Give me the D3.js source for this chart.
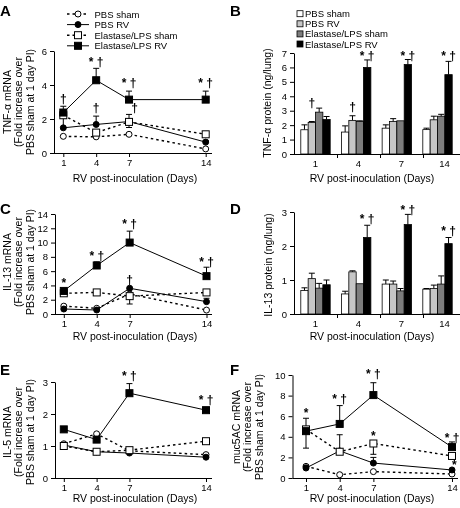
<!DOCTYPE html>
<html><head><meta charset="utf-8">
<script src="https://cdn.jsdelivr.net/npm/d3@7"></script>
<style>
body{margin:0;background:#fff}
svg{display:block;filter:grayscale(1)}
text{font-family:"Liberation Sans",Arial,Helvetica,sans-serif;fill:#000}
</style>
</head><body>
<svg id="chart" width="460" height="508"></svg>
<script>
// ---------------- DATA ----------------
const days = [1, 4, 7, 14];
const seriesNames = ["PBS sham", "PBS RV", "Elastase/LPS sham", "Elastase/LPS RV"];
const xTitle = "RV post-inoculation (Days)";

// A: TNF-α mRNA (rows = series, columns = days)
const aValues = [[0.98, 0.95, 1.1, 0.24], [1.48, 1.68, 1.85, 0.64], [2.22, 1.2, 1.83, 1.1], [2.38, 4.28, 3.14, 3.14]];
const aErrEnds = [[null, null, null, null], [2.05, 2.17, 2.27, 0.74], [null, null, 1.5, null], [2.75, 4.98, 3.64, 3.64]];
const aNotes = [{day: 1, y: 3.2, t: "†"}, {day: 4, y: 5.4, t: "* †"}, {day: 7, y: 4.15, t: "* †"}, {day: 14, y: 4.15, t: "* †"}, {day: 4, y: 2.7, t: "†"}, {day: 7.5, y: 2.65, t: "†"}];
const aTicks = [0, 2, 4, 6];

// B: TNF-α protein
const bValues = [[1.68, 1.52, 1.79, 1.69], [2.18, 2.33, 2.25, 2.37], [2.9, 2.25, 2.3, 2.62], [2.39, 6.0, 6.2, 5.5]];
const bErrEnds = [[2.02, 1.95, 2.02, 1.79], [2.25, 2.65, 2.45, 2.62], [3.18, 2.3, null, 2.75], [2.6, 6.52, 6.55, 6.42]];
const bNotes = [{day: 1, s: 1, y: 3.55, t: "†"}, {day: 4, s: 1, y: 3.3, t: "†"}, {day: 4, s: 3, y: 6.85, t: "* †"}, {day: 7, s: 3, y: 6.85, t: "* †"}, {day: 14, s: 3, y: 6.85, t: "* †"}];
const bTicks = [0, 1, 2, 3, 4, 5, 6, 7];

// C: IL-13 mRNA
const cValues = [[1.1, 0.8, 2.8, 0.55], [0.7, 0.56, 3.6, 1.73], [2.9, 3.02, 2.5, 3.02], [3.23, 6.79, 10.0, 5.3]];
const cErrEnds = [[null, null, null, null], [null, null, null, 2.2], [null, null, 1.4, null], [null, 7.3, 11.6, 6.55]];
const cNotes = [{day: 1, y: 4.4, t: "*"}, {day: 4, y: 8.2, t: "* †"}, {day: 7, y: 12.7, t: "* †"}, {day: 14, y: 7.4, t: "* †"}, {day: 7, y: 4.9, t: "†"}];
const cTicks = [0, 2, 4, 6, 8, 10, 12, 14];

// D: IL-13 protein
const dValues = [[0.69, 0.59, 0.88, 0.73], [1.04, 1.24, 0.88, 0.75], [0.76, 0.89, 0.68, 0.88], [0.86, 2.25, 2.63, 2.07]];
const dErrEnds = [[0.77, 0.67, 1.0, 0.75], [1.2, 1.27, 0.97, 0.85], [0.9, null, 0.75, 1.12], [1.0, 2.61, 2.93, 2.25]];
const dNotes = [{day: 4, s: 3, y: 2.8, t: "* †"}, {day: 7, s: 3, y: 3.08, t: "* †"}, {day: 14, s: 3, y: 2.46, t: "* †"}];
const dTicks = [0, 1, 2, 3];

// E: IL-5 mRNA
const eValues = [[1.07, 1.38, 0.85, 0.73], [1.03, 0.82, 0.78, 0.65], [1.0, 0.82, 0.87, 1.15], [1.52, 1.2, 2.65, 2.12]];
const eErrEnds = [[null, null, null, null], [null, null, null, null], [null, null, null, null], [null, null, 2.95, null]];
const eNotes = [{day: 7, y: 3.2, t: "* †"}, {day: 14, y: 2.45, t: "* †"}];
const eTicks = [0, 1, 2, 3];

// F: muc5AC mRNA
const fValues = [[1.13, 0.32, 0.62, 0.39], [0.97, 2.63, 1.45, 0.78], [4.72, 2.55, 3.35, 2.14], [4.55, 5.25, 8.05, 3.0]];
const fErrEnds = [[null, null, null, null], [1.25, 4.2, 2.0, null], [5.8, null, 2.3, null], [2.9, 7.03, 9.25, 3.5]];
const fNotes = [{day: 1, y: 6.4, t: "*"}, {day: 4, y: 7.7, t: "* †"}, {day: 7, y: 10.1, t: "* †"}, {day: 7, y: 4.15, t: "*"}, {day: 14, y: 3.95, t: "* †"}, {day: 14.2, y: 1.3, t: "*"}];
const fTicks = [0, 2, 4, 6, 8, 10];

// ---------------- STYLES ----------------
const FONT_TICK = 9.5, FONT_LAB = 10.5, FONT_NOTE = 12;
const lineDashed = [true, false, true, false];
const markerShape = ["circle", "circle", "square", "square"];
const markerFill = ["#fff", "#000", "#fff", "#000"];
const barFill = ["#ffffff", "#c6c6c6", "#7d7d7d", "#000000"];

const svg = d3.select("#chart");

function panelLetter(x, y, t) {
  svg.append("text").attr("x", x).attr("y", y).attr("font-size", 15).attr("font-weight", "bold").text(t);
}

function yLabel(lines, xs, cy) {
  lines.forEach((ln, i) => {
    svg.append("text").attr("transform", `translate(${xs[i]},${cy}) rotate(-90)`)
      .attr("text-anchor", "middle").attr("dy", "0.35em").attr("font-size", FONT_LAB).text(ln);
  });
}

function styleAxis(g) {
  g.selectAll("path,line").attr("stroke", "#000").attr("stroke-width", 1);
  g.selectAll("text").attr("font-size", FONT_TICK).attr("font-family", '"Liberation Sans",Arial,sans-serif');
}

function drawMarker(g, shape, fill, cx, cy) {
  if (shape === "circle") {
    g.append("circle").attr("cx", cx).attr("cy", cy).attr("r", 3)
      .attr("fill", fill).attr("stroke", "#000").attr("stroke-width", 1);
  } else {
    g.append("rect").attr("x", cx - 3.5).attr("y", cy - 3.5).attr("width", 7).attr("height", 7)
      .attr("fill", fill).attr("stroke", "#000").attr("stroke-width", 1);
  }
}

function errBar(g, cx, y0, y1) {
  g.append("line").attr("x1", cx).attr("x2", cx).attr("y1", y0).attr("y2", y1).attr("stroke", "#000").attr("stroke-width", 1);
  g.append("line").attr("x1", cx - 3).attr("x2", cx + 3).attr("y1", y1).attr("y2", y1).attr("stroke", "#000").attr("stroke-width", 1);
}

function note(g, x, y, t) {
  g.append("text").attr("x", x).attr("y", y + 4.5).attr("text-anchor", "middle")
    .attr("font-size", FONT_NOTE).attr("font-weight", "bold").attr("fill", "#000").text(t);
}

function linePanel(cfg) {
  const g = svg.append("g");
  const x = d3.scaleLinear().domain([1, 14]).range(cfg.xr);
  const y = d3.scaleLinear().domain([0, cfg.ymax]).range([cfg.yb, cfg.yt]);
  const ax = g.append("g").attr("transform", `translate(0,${cfg.yb})`)
    .call(d3.axisBottom(x).tickValues(days).tickFormat(d3.format("d")).tickSize(4).tickPadding(2));
  ax.select(".domain").attr("d", `M${cfg.ax0},0.5H${cfg.ax1}`);
  styleAxis(ax);
  const ay = g.append("g").attr("transform", `translate(${cfg.ax0},0)`)
    .call(d3.axisLeft(y).tickValues(cfg.ticks).tickFormat(d3.format("d")).tickSize(4).tickSizeOuter(0).tickPadding(3));
  styleAxis(ay);
  cfg.values.forEach((vals, s) => {
    const pts = vals.map((v, i) => [x(days[i]), y(v)]);
    g.append("path").attr("d", d3.line()(pts)).attr("fill", "none").attr("stroke", "#000")
      .attr("stroke-width", lineDashed[s] ? 1.4 : 1)
      .attr("stroke-dasharray", lineDashed[s] ? "2.5,3" : null);
    vals.forEach((v, i) => {
      const e = cfg.errs[s][i];
      if (e != null) errBar(g, x(days[i]), y(v), y(e));
    });
    vals.forEach((v, i) => drawMarker(g, markerShape[s], markerFill[s], x(days[i]), y(v)));
  });
  cfg.notes.forEach(n => note(g, x(n.day), y(n.y), n.t));
  g.append("text").attr("x", cfg.titleX).attr("y", cfg.titleY).attr("text-anchor", "middle")
    .attr("font-size", FONT_LAB).text(xTitle);
}

function barPanel(cfg) {
  const g = svg.append("g");
  const xg = d3.scaleBand().domain(days).range([cfg.ax0, cfg.ax0 + 4 * cfg.step]);
  const xs = d3.scaleBand().domain(d3.range(4)).range([cfg.inner0, cfg.inner0 + 4 * cfg.barW]);
  const xl = d3.scaleBand().domain(days).range([cfg.ax0, cfg.ax0 + 4 * cfg.labStep]);
  const y = d3.scaleLinear().domain([0, cfg.ymax]).range([cfg.yb, cfg.yt]);
  const ax = g.append("g").attr("transform", `translate(0,${cfg.yb})`)
    .call(d3.axisBottom(xl).tickFormat(d3.format("d")).tickSize(0).tickPadding(6));
  ax.select(".domain").attr("d", `M${cfg.ax0},0.5H${cfg.ax1}`);
  ax.selectAll(".tick line").remove();
  days.forEach((d, i) => {
    if (i > 0) ax.append("line").attr("x1", xl(d) + 0.5).attr("x2", xl(d) + 0.5).attr("y1", 0).attr("y2", 4);
  });
  styleAxis(ax);
  const ay = g.append("g").attr("transform", `translate(${cfg.ax0},0)`)
    .call(d3.axisLeft(y).tickValues(cfg.ticks).tickFormat(d3.format("d")).tickSize(4).tickSizeOuter(0).tickPadding(3));
  styleAxis(ay);
  cfg.values.forEach((vals, s) => {
    vals.forEach((v, i) => {
      const bx = xg(days[i]) + xs(s);
      const e = cfg.errs[s][i];
      if (e != null) errBar(g, bx + xs.bandwidth() / 2, y(v), y(e));
      g.append("rect").attr("x", bx).attr("y", y(v)).attr("width", xs.bandwidth()).attr("height", y(0) - y(v))
        .attr("fill", barFill[s]).attr("stroke", "#000").attr("stroke-width", 0.8);
    });
  });
  cfg.notes.forEach(n => note(g, xg(n.day) + xs(n.s) + xs.bandwidth() / 2, y(n.y), n.t));
  g.append("text").attr("x", cfg.titleX).attr("y", cfg.titleY).attr("text-anchor", "middle")
    .attr("font-size", FONT_LAB).text(xTitle);
}

// ---------------- LEGENDS ----------------
const legA = svg.append("g");
seriesNames.forEach((nm, s) => {
  const cy = 14 + s * 10.6;
  legA.append("line").attr("x1", 67).attr("x2", 89).attr("y1", cy).attr("y2", cy)
    .attr("stroke", "#000").attr("stroke-width", lineDashed[s] ? 1.4 : 1)
    .attr("stroke-dasharray", lineDashed[s] ? "2.5,3" : null);
  drawMarker(legA, markerShape[s], markerFill[s], 78, cy);
  legA.append("text").attr("x", 94.5).attr("y", cy + 3.5).attr("font-size", FONT_TICK).text(nm);
});
const legB = svg.append("g");
seriesNames.forEach((nm, s) => {
  const cy = 13.7 + s * 10.1;
  legB.append("rect").attr("x", 297).attr("y", cy - 3).attr("width", 6).attr("height", 6)
    .attr("fill", barFill[s]).attr("stroke", "#000").attr("stroke-width", 0.8);
  legB.append("text").attr("x", 305).attr("y", cy + 3.5).attr("font-size", FONT_TICK).text(nm);
});

// ---------------- PANELS ----------------
const foldLines = ["(Fold increase over", "PBS sham at 1 day PI)"];

panelLetter(0, 15.5, "A");
linePanel({xr: [63.3, 205.7], ax0: 54, ax1: 212, yb: 153, yt: 51, ymax: 6, ticks: aTicks,
  values: aValues, errs: aErrEnds, notes: aNotes, titleX: 135, titleY: 181.5});
yLabel(["TNF-α mRNA"].concat(foldLines), [7, 18.5, 30], 102);

panelLetter(230, 15.5, "B");
barPanel({ax0: 294, ax1: 460, step: 40.67, labStep: 43, inner0: 6.8, barW: 7.35, yb: 154, yt: 53, ymax: 7,
  ticks: bTicks, values: bValues, errs: bErrEnds, notes: bNotes, titleX: 372, titleY: 181.5});
yLabel(["TNF-α protein (ng/lung)"], [267], 103);

panelLetter(0, 214, "C");
linePanel({xr: [63.8, 206.5], ax0: 55, ax1: 212, yb: 314, yt: 214, ymax: 14, ticks: cTicks,
  values: cValues, errs: cErrEnds, notes: cNotes, titleX: 135, titleY: 340});
yLabel(["IL-13 mRNA"].concat(foldLines), [7, 18.5, 30], 262);

panelLetter(230, 214, "D");
barPanel({ax0: 294, ax1: 460, step: 40.67, labStep: 43, inner0: 6.8, barW: 7.35, yb: 314, yt: 212, ymax: 3,
  ticks: dTicks, values: dValues, errs: dErrEnds, notes: dNotes, titleX: 372, titleY: 340});
yLabel(["IL-13 protein (ng/lung)"], [268], 265);

panelLetter(0, 375, "E");
linePanel({xr: [63.8, 206], ax0: 55, ax1: 212, yb: 478, yt: 382, ymax: 3, ticks: eTicks,
  values: eValues, errs: eErrEnds, notes: eNotes, titleX: 135, titleY: 502});
yLabel(["IL-5 mRNA"].concat(foldLines), [7, 18.5, 30], 432);

panelLetter(230, 375, "F");
linePanel({xr: [306, 452], ax0: 292.5, ax1: 458, yb: 478, yt: 375, ymax: 10, ticks: fTicks,
  values: fValues, errs: fErrEnds, notes: fNotes, titleX: 372, titleY: 502});
yLabel(["muc5AC mRNA"].concat(foldLines), [236, 247.5, 259], 427);
</script>
</body></html>
